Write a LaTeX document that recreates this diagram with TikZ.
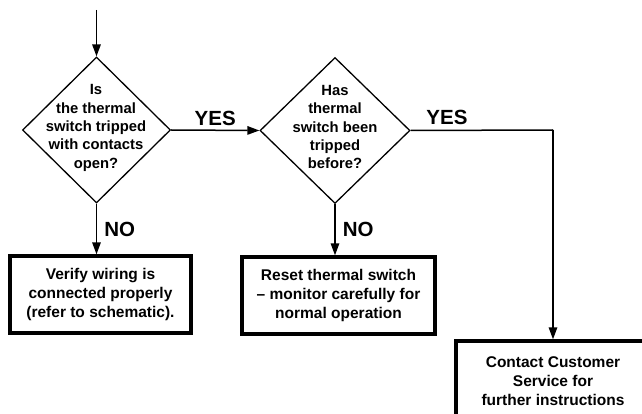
\documentclass[tikz,border=0pt]{standalone}
\usepackage{fontspec}
\setmainfont{Liberation Sans}
\usetikzlibrary{shapes.geometric,arrows.meta}
\begin{document}
\begin{tikzpicture}[x=1pt,y=-1pt,
  dec/.style={draw,diamond,line width=1.3pt,minimum width=#1,minimum height=146pt,inner sep=0pt},
  dectext/.style={align=center,font=\fontsize{14.8}{18.3}\selectfont\bfseries,inner sep=0pt},
  actbox/.style={draw,line width=3.4pt,align=center,inner sep=0pt,font=\fontsize{15.5}{19.3}\selectfont\bfseries},
  lbl/.style={font=\fontsize{20.5}{24}\selectfont\bfseries,inner sep=0pt},
  conn/.style={line width=1.5pt,-{Triangle[length=12pt,width=8.5pt]}},
  plain/.style={line width=1.5pt}]
\useasboundingbox (0,0) rectangle (642,414);
\clip (0,0) rectangle (642,414);
\coordinate (start) at (96.5,10);
\node[dec=148pt] (d1) at (96.5,130) {};
\node[dectext] (t1) at (96,128) {Is\\the thermal\\switch tripped\\with contacts\\open?};
\node[dec=150pt] (d2) at (335,130.5) {};
\node[dectext] (t2) at (335,127) {Has\\thermal\\switch been\\tripped\\before?};
\node[actbox,minimum width=181pt,minimum height=77pt] (b1) at (100.5,294.5) {Verify wiring is\\connected properly\\(refer to schematic).};
\node[actbox,minimum width=193pt,minimum height=77pt] (b2) at (338.5,295.5) {Reset thermal switch\\– monitor carefully for\\normal operation};
\node[actbox,minimum width=200pt,minimum height=90pt] (b3) at (556,386) {};
\node[actbox,draw=none] (t3) at (553,381) {Contact Customer\\Service for\\further instructions};
\coordinate (c3) at (553,130);
\draw[conn] (start) -- (d1.north);
\draw[conn] (d1.east) -- node[lbl,above=4pt] (yes1) {YES} (d2.west);
\draw[plain] (d2.east) -- (c3);
\draw[conn] (c3) -- (c3 |- b3.north);
\draw[conn] (d1.south) -- node[lbl,right=7pt] (no1) {NO} (d1.south |- b1.north);
\draw[conn] (d2.south) -- node[lbl,right=7pt] (no2) {NO} (d2.south |- b2.north);
\node[lbl] (yes2) at (447,117.5) {YES};
\end{tikzpicture}
\end{document}
